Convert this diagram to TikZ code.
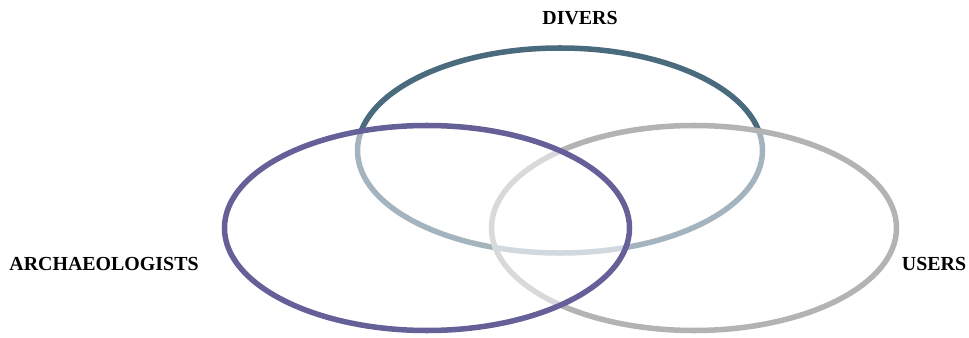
\documentclass[tikz,border=0pt]{standalone}
\usepackage{fontspec}
\setmainfont{Liberation Serif}
\usetikzlibrary{shapes.geometric}
\definecolor{diverscol}{HTML}{4A6A7E}
\definecolor{archcol}{HTML}{656098}
\definecolor{userscol}{HTML}{B3B3B3}

\begin{document}
\begin{tikzpicture}[
  x=0.03cm,y=-0.03cm,
  set/.style={ellipse,line width=4.7pt,minimum width=12.15cm,minimum height=6.15cm,inner sep=0pt,outer sep=0pt,fill=white,fill opacity=0.5},
  setname/.style={font=\bfseries\fontsize{17}{20}\selectfont,inner sep=0pt}
]
  \useasboundingbox (0,0) rectangle (969,338);
  % circles, back to front
  \node[set,draw=diverscol] (divers) at (560,150.5) {};
  \node[set,draw=userscol] (users) at (694,228) {};
  \node[set,draw=archcol] (arch) at (427,228) {};
  % names
  \node[setname] (diverslbl) at (580,18) {DIVERS};
  \node[setname] (archlbl) at (104,264) {ARCHAEOLOGISTS};
  \node[setname] (userslbl) at (934,264) {USERS};
\end{tikzpicture}
\end{document}
